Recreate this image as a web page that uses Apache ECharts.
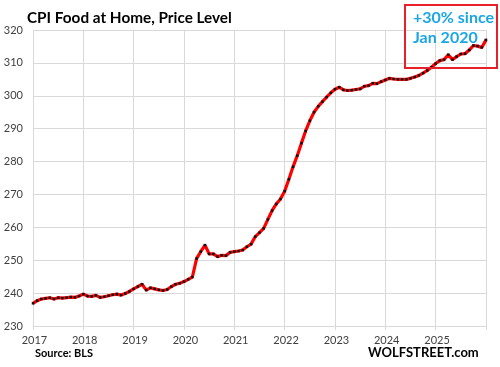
<!DOCTYPE html>
<html>
<head>
<meta charset="utf-8">
<script src="https://cdn.jsdelivr.net/npm/echarts@6/dist/echarts.min.js"></script>
<style>
  html, body { margin: 0; padding: 0; background: #fff; }
  #chart { width: 500px; height: 367px; }
</style>
</head>
<body>
<div id="chart"></div>
<script>
// CPI food at home, monthly index level, Jan 2017 - Jan 2026
const y2017 = [236.9, 237.7, 238.2, 238.4, 238.6, 238.2, 238.6, 238.5, 238.6, 238.8, 238.7, 239.1];
const y2018 = [239.7, 239.1, 239.0, 239.3, 238.7, 238.9, 239.2, 239.5, 239.7, 239.4, 239.9, 240.5];
const y2019 = [241.3, 242.0, 242.7, 240.9, 241.6, 241.3, 241.0, 240.8, 241.1, 242.0, 242.7, 243.0];
const y2020 = [243.5, 244.2, 244.9, 250.5, 252.6, 254.6, 251.9, 251.9, 251.1, 251.5, 251.4, 252.4];
const y2021 = [252.6, 252.8, 253.1, 254.1, 254.9, 257.2, 258.4, 259.7, 262.4, 265.1, 267.1, 268.6];
const y2022 = [271.0, 274.6, 278.4, 281.8, 285.6, 289.3, 292.4, 295.0, 296.8, 298.2, 299.6, 300.9];
const y2023 = [302.0, 302.6, 301.8, 301.6, 301.7, 301.9, 302.1, 302.9, 303.1, 303.8, 303.7, 304.3];
const y2024 = [304.8, 305.3, 305.1, 305.0, 305.0, 305.0, 305.3, 305.7, 306.2, 306.9, 307.7, 308.7];
const y2025 = [309.8, 310.7, 311.0, 312.5, 311.0, 311.9, 312.7, 312.8, 313.9, 315.3, 315.1, 314.7];
const y2026 = [317.0];

const years = ['2017', '2018', '2019', '2020', '2021', '2022', '2023', '2024', '2025', '2026'];
const yTicks = [230, 240, 250, 260, 270, 280, 290, 300, 310, 320];

const values = [].concat(y2017, y2018, y2019, y2020, y2021, y2022, y2023, y2024, y2025, y2026);
const months = [];
years.forEach(function (y) {
  for (let m = 1; m <= 12; m++) {
    if (months.length < values.length) months.push(y + '-' + (m < 10 ? '0' + m : m));
  }
});

const font = 'Lato, "Open Sans", sans-serif';
const chart = echarts.init(document.getElementById('chart'));

chart.setOption({
  animation: false,
  title: {
    text: 'CPI Food at Home, Price Level',
    left: 22,
    top: 6,
    textStyle: { fontFamily: font, fontSize: 15.3, fontWeight: 'bold', color: '#000' }
  },
  grid: { left: 33, right: 14, top: 30, bottom: 41 },
  xAxis: {
    type: 'category',
    data: months,
    boundaryGap: false,
    axisLine: { lineStyle: { color: '#d9d9d9' } },
    axisTick: { show: true, interval: 11, length: 4, lineStyle: { color: '#d9d9d9' } },
    splitLine: { show: true, interval: 11, lineStyle: { color: '#d9d9d9', width: 1 } },
    axisLabel: {
      interval: 11,
      margin: 9,
      fontFamily: font,
      fontSize: 11,
      color: '#404040',
      formatter: function (v) {
        const y = v.slice(0, 4);
        return y === '2026' ? '' : ' ' + y;
      }
    }
  },
  yAxis: {
    type: 'value',
    min: yTicks[0],
    max: yTicks[yTicks.length - 1],
    interval: 10,
    axisLine: { show: false },
    axisTick: { show: false },
    splitLine: { lineStyle: { color: '#d9d9d9', width: 1 } },
    axisLabel: { margin: 10, fontFamily: font, fontSize: 11, color: '#404040' }
  },
  series: [{
    type: 'line',
    data: values,
    symbol: 'rect',
    symbolSize: 2.5,
    showSymbol: true,
    itemStyle: { color: '#111' },
    lineStyle: { color: '#ff0000', width: 3.2 },
    z: 3
  }],
  graphic: [
    {
      type: 'rect',
      shape: { x: 405, y: 5, width: 92, height: 63 },
      style: { fill: 'none', stroke: '#e8202a', lineWidth: 2 },
      z: 10
    },
    {
      type: 'text',
      left: 413, top: 8,
      style: {
        text: '+30% since\nJan 2020',
        fill: '#1ba6e6',
        font: 'bold 16px ' + font,
        lineHeight: 20
      },
      z: 10
    },
    {
      type: 'text',
      left: 35, top: 348,
      style: { text: 'Source: BLS', fill: '#000', font: 'bold 11px ' + font }
    },
    {
      type: 'text',
      left: 368, top: 346,
      style: { text: 'WOLFSTREET.com', fill: '#000', font: 'bold 13px ' + font }
    }
  ]
});
</script>
</body>
</html>
